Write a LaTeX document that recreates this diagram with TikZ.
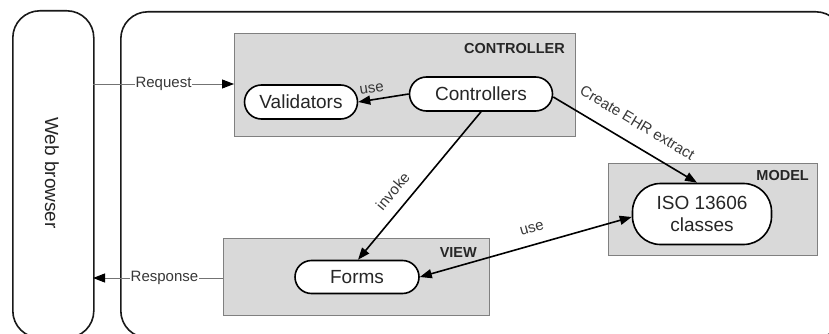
\documentclass[tikz,border=0pt]{standalone}
\usepackage{fontspec}
\setmainfont{Liberation Sans}
\usetikzlibrary{arrows.meta}

\begin{document}
\begin{tikzpicture}[x=1pt,y=-1pt,
  frame/.style={draw=black!90, line width=1.6pt, rounded corners=27pt, inner sep=0pt, anchor=north west},
  layer/.style={draw=black!50, line width=1.3pt, fill=black!15, inner sep=0pt, anchor=north west},
  layertitle/.style={anchor=north east, inner sep=0pt, font=\bfseries\fontsize{14.5}{16}\selectfont, text=black!85},
  comp/.style={draw=black, line width=1.6pt, fill=white, inner sep=0pt, align=center,
    font=\fontsize{19}{22}\selectfont, text=black!85},
  lbl/.style={font=\fontsize{15}{17}\selectfont, text=black!78, inner sep=2pt},
  tip/.style={-{Triangle[length=12pt,width=9pt,color=black]}},
  conn/.style={line width=1.6pt, draw=black, tip},
  io/.style={line width=0.9pt, draw=black!55, tip}
]
\useasboundingbox (0,0) rectangle (829,334);
\clip (0,0) rectangle (829,334);

% outer frames (run past the lower and right border)
\node[frame, minimum width=81pt, minimum height=327pt] (wb) at (12,10) {};
\node[font=\fontsize{19}{22}\selectfont, text=black!85, rotate=-90] (wbl) at (52,173) {Web browser};
\node[frame, minimum width=722pt, minimum height=326pt] (app) at (120,11) {};

% layers
\node[layer, minimum width=341pt, minimum height=103pt] (ctrl) at (234,33) {};
\node[layertitle] (ctrlt) at (565,43) {CONTROLLER};
\node[layer, minimum width=209pt, minimum height=92pt] (model) at (608,163) {};
\node[layertitle] (modelt) at (809,170) {MODEL};
\node[layer, minimum width=266pt, minimum height=77pt] (view) at (223,238) {};
\node[layertitle] (viewt) at (477,247) {VIEW};

% components
\node[comp, minimum width=113pt, minimum height=34pt, rounded corners=17pt] (val) at (301,102) {Validators};
\node[comp, minimum width=143pt, minimum height=34pt, rounded corners=17pt] (ctl) at (481,94) {Controllers};
\node[comp, minimum width=139pt, minimum height=61pt, rounded corners=28pt] (iso) at (702,214) {ISO 13606\\classes};
\node[comp, minimum width=124pt, minimum height=33pt, rounded corners=16.5pt] (frm) at (357,277) {Forms};

% browser traffic
\coordinate (rq) at (93,84);
\coordinate (rs) at (93,278);
\draw[io] (rq) -- node[lbl, fill=white, inner sep=1pt] {Request} (ctrl.west |- rq);
\draw[io] (view.west |- rs) -- node[lbl, fill=white, inner sep=1pt, pos=0.45] {Response} (rs);

% component links
\draw[conn] (ctl.west) -- node[lbl, sloped, above=4pt, pos=0.7] {use} (val.east);
\draw[conn] (ctl.south) -- node[lbl, sloped, above=9pt, pos=0.61] {invoke} ([xshift=1pt]frm.north);
\draw[conn] ([yshift=-3pt]ctl.east) -- node[lbl, sloped, above=13pt, pos=0.51] {Create EHR extract} ([xshift=-5pt]iso.north);
\draw[conn, {Triangle[length=12pt,width=9pt]}-{Triangle[length=12pt,width=9pt]}] (frm.east) -- node[lbl, sloped, above=9pt, pos=0.55] {use} ([yshift=-3pt]iso.west);
\end{tikzpicture}
\end{document}
